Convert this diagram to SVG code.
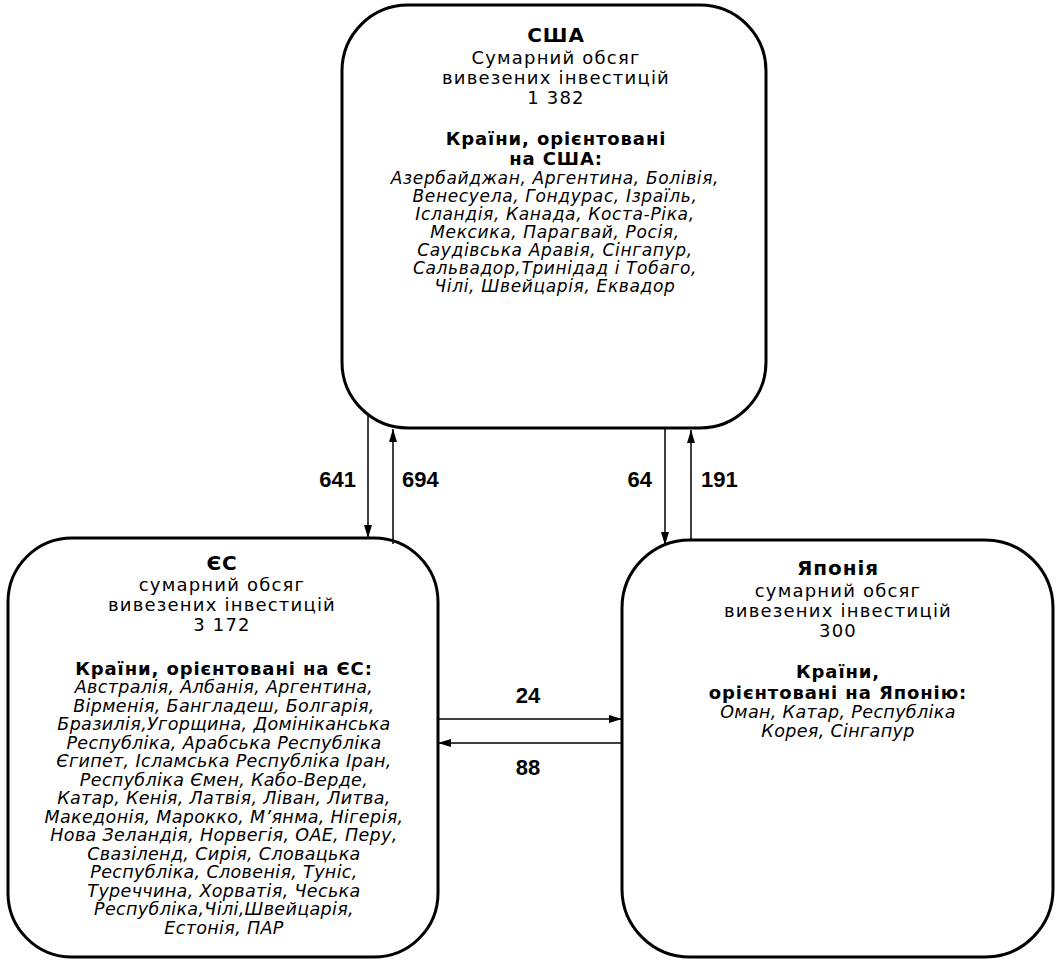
<svg xmlns="http://www.w3.org/2000/svg" width="1059" height="962" viewBox="0 0 1059 962">
<style>
.box{fill:#fff;stroke:#000;stroke-width:3}
.t{font-family:"DejaVu Sans","Liberation Sans",sans-serif;font-size:18px;letter-spacing:1.2px;fill:#000;text-anchor:middle}
.h{font-weight:bold;font-size:18px;letter-spacing:0.9px}
.i{font-style:italic;font-size:17.5px;letter-spacing:0.35px}
.u{font-size:17px;letter-spacing:0.65px}
.c{stroke:#000;stroke-width:1.5;fill:none}
.n{font-family:"Liberation Sans",Arial,sans-serif;font-weight:bold;font-size:22px;fill:#000}
</style>
<defs>
<marker id="ah" viewBox="0 0 13 8" refX="13" refY="4" markerWidth="13" markerHeight="8" markerUnits="userSpaceOnUse" orient="auto">
<path d="M0,0 L13,4 L0,8 z" fill="#000"/>
</marker>
</defs>
<g id="usa">
<rect class="box" x="342" y="5" width="424" height="423" rx="66" ry="66"/>
<text class="t h" x="556" y="42" style="font-size:20px">США</text>
<text class="t" x="556" y="64">Сумарний обсяг</text>
<text class="t" x="556" y="84">вивезених інвестицій</text>
<text class="t" x="556" y="104">1 382</text>
<text class="t h" x="556" y="145">Країни, орієнтовані</text>
<text class="t h" x="556" y="165">на США:</text>
<text class="t i u" x="555" y="184">Азербайджан, Аргентина, Болівія,</text>
<text class="t i u" x="555" y="202">Венесуела, Гондурас, Ізраїль,</text>
<text class="t i u" x="555" y="220">Ісландія, Канада,  Коста-Ріка,</text>
<text class="t i u" x="555" y="238">Мексика, Парагвай, Росія,</text>
<text class="t i u" x="555" y="256">Саудівська Аравія, Сінгапур,</text>
<text class="t i u" x="555" y="274">Сальвадор,Тринідад і Тобаго,</text>
<text class="t i u" x="555" y="292">Чілі, Швейцарія, Еквадор</text>
</g>
<g id="eu">
<rect class="box" x="8" y="538" width="430" height="419" rx="64" ry="64"/>
<text class="t h" x="222" y="570" style="font-size:20px">ЄС</text>
<text class="t" x="222" y="591">сумарний обсяг</text>
<text class="t" x="222" y="611">вивезених інвестицій</text>
<text class="t" x="222" y="631">3 172</text>
<text class="t h" x="224" y="675">Країни, орієнтовані на  ЄС:</text>
<text class="t i" x="224" y="693">Австралія, Албанія, Аргентина,</text>
<text class="t i" x="224" y="711.5">Вірменія, Бангладеш, Болгарія,</text>
<text class="t i" x="224" y="730">Бразилія,Угорщина, Домініканська</text>
<text class="t i" x="224" y="748.5">Республіка, Арабська Республіка</text>
<text class="t i" x="224" y="767">Єгипет, Ісламська Республіка Іран,</text>
<text class="t i" x="224" y="785.5">Республіка Ємен, Кабо-Верде,</text>
<text class="t i" x="224" y="804">Катар, Кенія, Латвія, Ліван, Литва,</text>
<text class="t i" x="224" y="822.5">Македонія, Марокко, М’янма, Нігерія,</text>
<text class="t i" x="224" y="841">Нова Зеландія, Норвегія, ОАЕ, Перу,</text>
<text class="t i" x="224" y="859.5">Свазіленд, Сирія, Словацька</text>
<text class="t i" x="224" y="878">Республіка, Словенія, Туніс,</text>
<text class="t i" x="224" y="896.5">Туреччина, Хорватія, Чеська</text>
<text class="t i" x="224" y="915">Республіка,Чілі,Швейцарія,</text>
<text class="t i" x="224" y="933.5">Естонія, ПАР</text>
</g>
<g id="japan">
<rect class="box" x="622" y="540" width="431" height="417" rx="68" ry="68"/>
<text class="t h" x="838" y="575" style="font-size:20px">Японія</text>
<text class="t" x="838" y="597">сумарний обсяг</text>
<text class="t" x="838" y="617">вивезених інвестицій</text>
<text class="t" x="838" y="637">300</text>
<text class="t h" x="838" y="678">Країни,</text>
<text class="t h" x="838" y="699">орієнтовані на  Японію:</text>
<text class="t i" x="838" y="718">Оман, Катар, Республіка</text>
<text class="t i" x="838" y="737">Корея, Сінгапур</text>
</g>
<g id="connectors">
<line class="c" x1="368" y1="414" x2="368" y2="538" marker-end="url(#ah)"/>
<line class="c" x1="393" y1="544" x2="393" y2="429" marker-end="url(#ah)"/>
<line class="c" x1="665" y1="428" x2="665" y2="545" marker-end="url(#ah)"/>
<line class="c" x1="691" y1="540" x2="691" y2="430" marker-end="url(#ah)"/>
<line class="c" x1="438" y1="719" x2="622" y2="719" marker-end="url(#ah)"/>
<line class="c" x1="622" y1="743" x2="438" y2="743" marker-end="url(#ah)"/>
<text class="n" x="356" y="487" text-anchor="end">641</text>
<text class="n" x="402" y="487">694</text>
<text class="n" x="652" y="487" text-anchor="end">64</text>
<text class="n" x="701" y="487">191</text>
<text class="n" x="528" y="703" text-anchor="middle">24</text>
<text class="n" x="528" y="775" text-anchor="middle">88</text>
</g>
</svg>
